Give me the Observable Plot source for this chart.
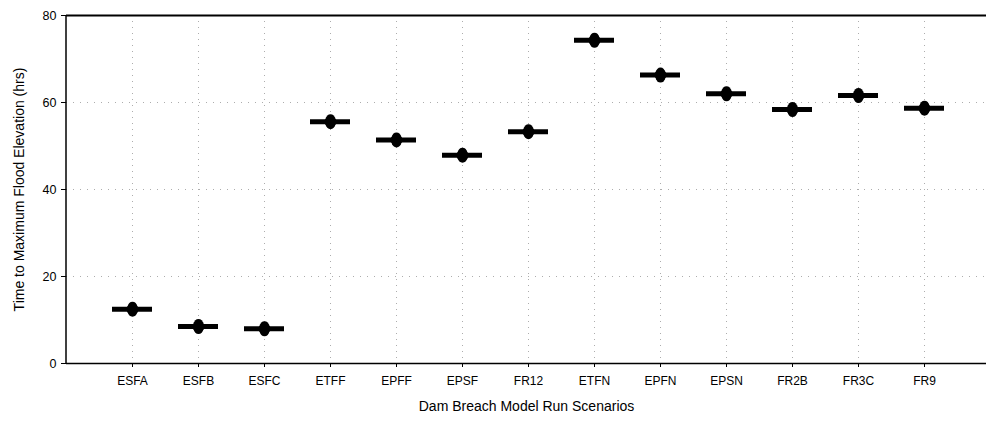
<!DOCTYPE html>
<html>
<head>
<meta charset="utf-8">
<script src="https://cdn.jsdelivr.net/npm/d3@7"></script>
<script src="https://cdn.jsdelivr.net/npm/@observablehq/plot@0.6"></script>
<style>
  body { margin: 0; background: #fff; }
  svg { font-family: "Liberation Sans", Arial, sans-serif; }
</style>
</head>
<body>
<div id="chart"></div>
<script>
const scenarios = ["ESFA","ESFB","ESFC","ETFF","EPFF","EPSF","FR12","ETFN","EPFN","EPSN","FR2B","FR3C","FR9"];
const hours = [12.5, 8.5, 8.0, 55.6, 51.4, 47.9, 53.3, 74.3, 66.3, 62.0, 58.4, 61.6, 58.7];
const yTicks = [0, 20, 40, 60, 80];

const data = scenarios.map((s, i) => ({scenario: s, hours: hours[i]}));

const chart = Plot.plot({
  width: 986,
  height: 425,
  marginLeft: 66,
  marginRight: 0,
  marginTop: 15,
  marginBottom: 62,
  style: {fontFamily: '"Liberation Sans", Arial, sans-serif', fontSize: "12px", color: "#000", background: "#fff"},
  x: {type: "band", domain: scenarios, range: [66, 990], paddingInner: 0.394, paddingOuter: 0.697, align: 0.5},
  y: {domain: [0, 80], range: [363, 15]},
  marks: [
    Plot.gridX(scenarios, {stroke: "#999", strokeOpacity: 0.8, strokeDasharray: "1,5"}),
    Plot.gridY([20, 40, 60], {stroke: "#999", strokeOpacity: 0.8, strokeDasharray: "1,6"}),
    Plot.axisY(yTicks, {tickSize: 5, tickPadding: 5, fontSize: 12.5, label: "Time to Maximum Flood Elevation (hrs)", labelAnchor: "center", labelArrow: "none", labelOffset: 52}),
    Plot.axisX(scenarios, {tickSize: 4, tickPadding: 9, fontSize: 12, label: "Dam Breach Model Run Scenarios", labelAnchor: "center", labelArrow: "none", labelOffset: 47}),
    Plot.ruleY([80], {stroke: "#000", strokeWidth: 2}),
    Plot.ruleY([0], {stroke: "#000", strokeWidth: 1.5}),
    Plot.tickY(data, {x: "scenario", y: "hours", stroke: "#000", strokeWidth: 5}),
    Plot.dot(data, {x: "scenario", y: "hours", r: 6, fill: "#000", stroke: "none"}),
    Plot.dot(data, {x: "scenario", y: "hours", r: 4.5, fill: "#000", stroke: "none", dy: -3}),
    Plot.dot(data, {x: "scenario", y: "hours", r: 4.5, fill: "#000", stroke: "none", dy: 3})
  ]
});

const svg = d3.select(chart);
svg.append("line").attr("x1", 66).attr("x2", 66).attr("y1", 15).attr("y2", 363).attr("stroke", "#000").attr("stroke-width", 1.5);
svg.selectAll("[aria-label='y-axis label'] text, [aria-label='x-axis label'] text").style("font-size", "14px");
document.getElementById("chart").appendChild(chart);
</script>
</body>
</html>
